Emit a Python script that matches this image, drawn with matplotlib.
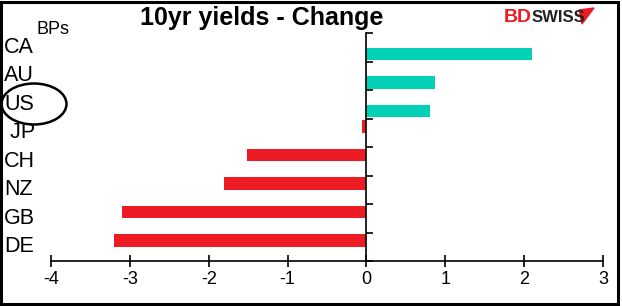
import matplotlib
matplotlib.use("Agg")
import matplotlib.pyplot as plt
import matplotlib.transforms as mtransforms
from matplotlib.patches import Ellipse, Rectangle, Polygon

countries = ["CA", "AU", "US", " JP", "CH", "NZ", "GB", "DE"]
rise = [2.1, 0.87, 0.81, 0, 0, 0, 0, 0]
fall = [0, 0, 0, -0.05, -1.52, -1.8, -3.1, -3.2]
xticks = [-4, -3, -2, -1, 0, 1, 2, 3]

green = "#03D1B7"
red = "#ED1C24"

plt.rcParams['font.family'] = ['Liberation Sans', 'DejaVu Sans']

W, H = 622, 306
fig = plt.figure(figsize=(W/100, H/100), dpi=100)
ax = fig.add_axes([51/W, 45/H, 552/W, 228/H])

pos = list(range(len(countries)))
ax.barh([p + 0.23 for p in pos], rise, height=0.44, color=green)
ax.barh([p - 0.22 for p in pos], fall, height=0.44, color=red)

ax.set_xlim(-4, 3)
ax.set_ylim(len(countries) - 0.5, -0.5)
ax.set_xticks(xticks)
ax.set_xticklabels([str(v) for v in xticks], fontsize=13)

for s in ["top", "right"]:
    ax.spines[s].set_visible(False)
ax.spines["left"].set_position(("data", 0))
ax.spines["left"].set_linewidth(1.2)
ax.spines["bottom"].set_linewidth(1.2)
ax.tick_params(axis="x", direction="inout", length=8, width=1.2, pad=3)
ax.set_yticks(pos)
ax.set_yticklabels([])
ax.tick_params(axis="y", which="major", length=0)
ax.set_yticks([p - 0.5 for p in pos] + [len(pos) - 0.5], minor=True)
ax.tick_params(axis="y", which="minor", direction="in", length=5, width=1.2)

trans = mtransforms.blended_transform_factory(fig.transFigure, ax.transData)
for p, c in zip(pos, countries):
    ax.text(4/W, p, c, transform=trans, fontsize=15.5, ha="left", va="center")

fig.text(36/W, 1 - 30/H, "BPs", fontsize=13, ha="left", va="center")
fig.text(262/W, 1 - 18/H, "10yr yields - Change", fontsize=18, fontweight="bold",
         ha="center", va="center")

# logo
fig.text(504/W, 1 - 17/H, "BD", fontsize=14, fontweight="bold", color=red,
         ha="left", va="center")
fig.text(532/W, 1 - 17/H, "SWISS", fontsize=12, fontweight="bold", color="#222222",
         ha="left", va="center")
fig.patches.append(Polygon([[579/W, 1 - 10/H], [594/W, 1 - 8/H], [582/W, 1 - 24/H]],
                           closed=True, color=red, transform=fig.transFigure))

# circle around US
fig.patches.append(Ellipse((34/W, 1 - 104/H), 65/W, 41/H, fill=False, lw=1.8,
                           edgecolor="black", transform=fig.transFigure))
# frame
fig.patches.append(Rectangle((1/W, 2/H), 617/W, 302/H, fill=False, lw=2.2,
                             edgecolor="black", transform=fig.transFigure))

fig.savefig("out.png", dpi=100)
